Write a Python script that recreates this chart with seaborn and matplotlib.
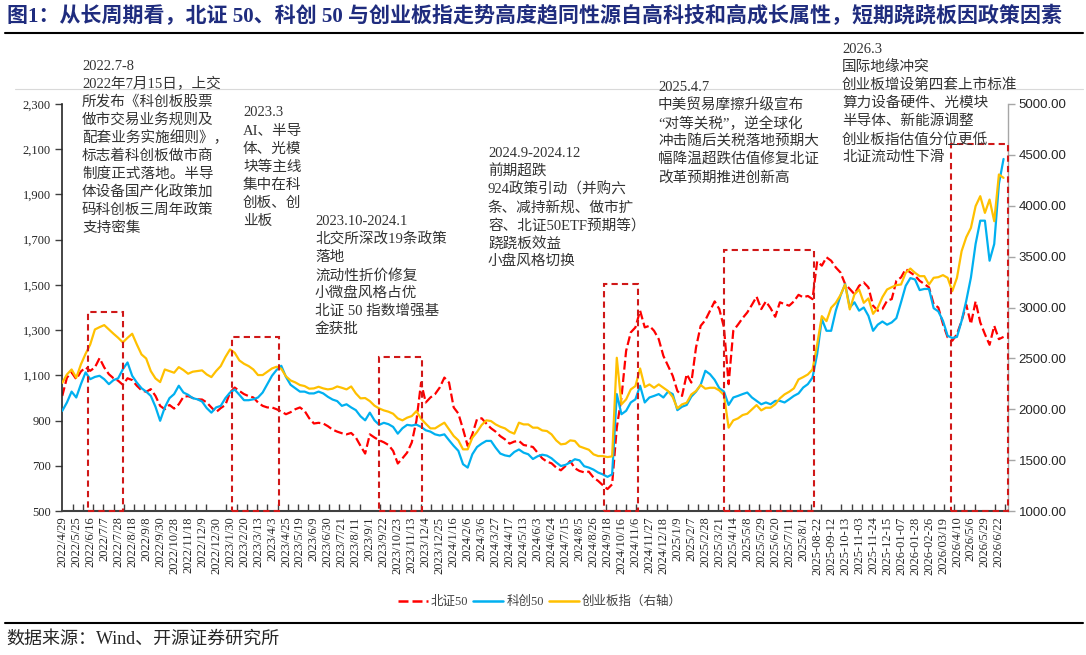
import numpy as np
import pandas as pd
import matplotlib
matplotlib.use("Agg")
import matplotlib.pyplot as plt
from matplotlib.lines import Line2D
from matplotlib.patches import Rectangle
import seaborn as sns

sns.set_style("ticks")
plt.rcParams["font.family"] = ["Liberation Serif", "Noto Sans CJK SC", "DejaVu Sans"]
plt.rcParams["axes.unicode_minus"] = False

# 北证50 / 科创50 (左轴) 与 创业板指 (右轴)，每 5 个交易日读一个点
bz50 = [1009, 1090, 1113, 1083, 1117, 1135, 1120, 1135, 1176, 1135, 1105, 1087, 1076, 1058, 1087,
        1079, 1054, 1034, 1027, 1039, 1009, 965, 950, 969, 953, 972, 1005, 1008, 1000, 994,
        993, 980, 958, 937, 955, 969, 1024, 1046, 1031, 1017, 1008, 1002,
        980, 965, 958, 958, 950, 940, 928, 937, 950, 958, 943, 910, 887, 890, 887,
        875, 860, 851, 844, 839, 845, 825, 788, 754, 839, 825, 813, 804, 792, 766,
        710, 733, 758, 803, 899, 1068, 980, 1002, 1017, 1046, 1090,
        1068, 958, 931, 862, 788, 839, 906, 910, 887, 866, 851, 831, 817, 798, 807,
        810, 792, 788, 783, 758, 733, 718, 711, 692, 680, 699, 721, 689, 677, 671,
        674, 648, 633, 614, 597, 618, 869, 1002, 1208, 1290, 1312,
        1386, 1312, 1319, 1297, 1260, 1186, 1142, 1098, 1031, 1009, 1105, 1068, 1223, 1319, 1344,
        1386, 1427, 1393, 1312, 1061, 1297, 1324, 1353, 1378, 1412, 1448, 1393, 1427, 1397, 1359,
        1423, 1415, 1408, 1427, 1456, 1445, 1451, 1437, 1604, 1585,
        1622, 1607, 1577, 1555, 1504, 1482, 1459, 1496, 1511, 1489, 1408, 1386, 1393, 1430, 1437,
        1518, 1533, 1570, 1555, 1541, 1518, 1504, 1489, 1415, 1400, 1327, 1268, 1253, 1282, 1341,
        1412, 1327, 1427, 1334, 1282, 1235, 1319, 1260, 1270]
kc50 = [943, 980, 1028, 1002, 1061, 1113, 1083, 1093, 1098, 1083, 1061, 1079, 1087, 1127, 1157,
        1098, 1068, 1043, 1028, 1009, 961, 899, 958, 999, 1017, 1054, 1024, 1014, 999, 994,
        984, 955, 935, 958, 965, 999, 1024, 1037, 1014, 990, 990, 994,
        1002, 1024, 1061, 1098, 1124, 1142, 1093, 1058, 1043, 1028, 1028, 1020, 1020, 1028, 1020,
        1005, 993, 986, 965, 972, 958, 946, 919, 901, 935, 901, 881, 890, 884, 872,
        842, 866, 881, 878, 882, 872, 857, 851, 839, 834, 839,
        813, 788, 766, 707, 692, 751, 783, 798, 810, 810, 780, 754, 746, 742, 761,
        772, 758, 751, 730, 742, 749, 745, 733, 715, 699, 704, 715, 729, 724, 698,
        692, 683, 670, 662, 651, 662, 1017, 928, 943, 980, 994,
        1054, 980, 1002, 1009, 1017, 1002, 1028, 1017, 946, 961, 969, 1006, 1028, 1058, 1120,
        1105, 1080, 1043, 1028, 969, 1002, 1009, 1017, 1024, 1002, 987, 972, 980, 972, 987,
        987, 980, 994, 1009, 1020, 1046, 1061, 1090, 1194, 1349,
        1297, 1297, 1386, 1452, 1504, 1400, 1423, 1386, 1400, 1363, 1297, 1324, 1338, 1324, 1334,
        1353, 1423, 1496, 1530, 1524, 1477, 1482, 1482, 1397, 1383, 1341, 1275, 1265, 1270, 1341,
        1430, 1533, 1681, 1784, 1784, 1607, 1681, 1946, 2057]
cyb = [2260, 2342, 2391, 2310, 2441, 2545, 2637, 2784, 2807, 2827, 2784, 2742, 2702, 2657, 2702,
       2742, 2637, 2539, 2499, 2375, 2303, 2267, 2391, 2375, 2359, 2414, 2385, 2349, 2369, 2375,
       2382, 2342, 2316, 2375, 2424, 2513, 2588, 2555, 2480, 2447, 2424, 2391,
       2336, 2336, 2369, 2401, 2418, 2398, 2323, 2283, 2264, 2238, 2228, 2202, 2205, 2221, 2205,
       2195, 2202, 2224, 2211, 2195, 2224, 2156, 2107, 2110, 2080, 2035, 2008, 1989, 1976, 1956,
       1910, 1891, 1917, 1933, 1982, 1907, 1858, 1812, 1812, 1841, 1868,
       1802, 1737, 1694, 1606, 1606, 1720, 1776, 1845, 1891, 1884, 1851, 1828, 1812, 1779, 1760,
       1868, 1851, 1851, 1819, 1819, 1792, 1786, 1753, 1694, 1655, 1661, 1694, 1688, 1635, 1619,
       1602, 1557, 1540, 1540, 1530, 1537, 2506, 2048, 2097, 2195, 2228,
       2401, 2218, 2244, 2211, 2244, 2211, 2179, 2120, 2008, 2048, 2064, 2146, 2179, 2238, 2202,
       2211, 2211, 2185, 2139, 1819, 1891, 1910, 1943, 1956, 1999, 2041, 1989, 2015, 2015, 2048,
       2107, 2146, 2172, 2205, 2293, 2316, 2342, 2391, 2637, 2915,
       2866, 2997, 3046, 3122, 3226, 2981, 3128, 3177, 3046, 3089, 2938, 2997, 3102, 3177, 3200,
       3220, 3226, 3341, 3383, 3341, 3308, 3308, 3226, 3292, 3298, 3318, 3292, 3161, 3292, 3554,
       3691, 3783, 3996, 4094, 3930, 4061, 3848, 4307, 4274]
step_days = 5      # 每个读数间隔的交易日
label_days = 15    # 横轴标签间隔的交易日

date_labels = ["2022/4/29", "2022/5/25", "2022/6/16", "2022/7/7", "2022/7/28", "2022/8/18",
               "2022/9/8", "2022/9/30", "2022/10/28", "2022/11/18", "2022/12/9", "2022/12/30",
               "2023/1/30", "2023/2/20", "2023/3/13", "2023/4/3", "2023/4/25", "2023/5/19",
               "2023/6/9", "2023/6/30", "2023/7/21", "2023/8/11", "2023/9/1", "2023/9/22",
               "2023/10/23", "2023/11/13", "2023/12/4", "2023/12/25", "2024/1/16", "2024/2/6",
               "2024/3/6", "2024/3/27", "2024/4/17", "2024/5/13", "2024/6/3", "2024/6/24",
               "2024/7/15", "2024/8/5", "2024/8/26", "2024/9/18", "2024/10/16", "2024/11/6",
               "2024/11/27", "2024/12/18", "2025/1/9", "2025/2/7", "2025/2/28", "2025/3/21",
               "2025/4/14", "2025/5/8", "2025/5/29", "2025/6/20", "2025/7/11", "2025/8/1",
               "2025-08-22", "2025-09-12", "2025-10-13", "2025-11-03", "2025-11-24", "2025-12-15",
               "2026-01-07", "2026-01-28", "2026-02-26", "2026/03/19", "2026/4/10", "2026/5/6",
               "2026/5/29", "2026/6/22"]

# 红色虚线框：起止位置(以横轴标签为单位)和左轴上的框顶
box_start = [1.86, 12.12, 22.65, 38.77, 47.33, 63.57]
box_end = [4.36, 15.52, 25.71, 41.2, 53.77, 67.67]
box_top = [1379, 1271, 1180, 1504, 1655, 2123]

notes = [
    (82, 66, ["2022.7-8", "2022年7月15日，上交", "所发布《科创板股票", "做市交易业务规则及",
              "配套业务实施细则》，", "标志着科创板做市商", "制度正式落地。半导",
              "体设备国产化政策加", "码科创板三周年政策", "支持密集"]),
    (243, 113, ["2023.3", "AI、半导", "体、光模", "块等主线", "集中在科", "创板、创", "业板"]),
    (315, 221.5, ["2023.10-2024.1", "北交所深改19条政策", "落地", "流动性折价修复",
                  "小微盘风格占优", "北证 50 指数增强基", "金获批"]),
    (488, 153.5, ["2024.9-2024.12", "前期超跌", "924政策引动（并购六", "条、减持新规、做市扩",
                  "容、北证50ETF预期等）", "跷跷板效益", "小盘风格切换"]),
    (658, 87.5, ["2025.4.7", "中美贸易摩擦升级宣布", "“对等关税”，逆全球化",
                 "冲击随后关税落地预期大", "幅降温超跌估值修复北证", "改革预期推进创新高"]),
    (842, 49.5, ["2026.3", "国际地缘冲突", "创业板增设第四套上市标准", "算力设备硬件、光模块",
                 "半导体、新能源调整", "创业板指估值分位更低", "北证流动性下滑"]),
]

df = pd.DataFrame({"day": np.arange(len(bz50)) * step_days,
                   "北证50": bz50, "科创50": kc50, "创业板指": cyb})

W, H = 1086, 655
fig = plt.figure(figsize=(W / 100, H / 100), dpi=100)
ax = fig.add_axes([62 / W, 1 - 511 / H, (1007.7 - 62) / W, (511 - 104) / H])

red, blue, gold = "#FF0000", "#00B0F0", "#FFC000"
sns.lineplot(data=df, x="day", y="北证50", ax=ax, color=red, lw=1.6,
             linestyle=(0, (4, 1.6)), zorder=2)
sns.lineplot(data=df, x="day", y="科创50", ax=ax, color=blue, lw=1.6, zorder=3)
ax2 = ax.twinx()
sns.lineplot(data=df, x="day", y="创业板指", ax=ax2, color=gold, lw=1.6, zorder=2)

ax.set_xlabel("")
ax.set_ylabel("")
ax2.set_ylabel("")
ax.set_xlim(-0.3, 67.63 * label_days)
ax.set_ylim(500, 2300)
ax2.set_ylim(1000, 5000)

ax.set_xticks(np.arange(len(date_labels)) * label_days)
ax.set_xticklabels(date_labels, rotation=90, fontsize=9, family="Liberation Serif")
ax.set_xticks(np.arange(0, 67.63 * label_days, 11), minor=True)
ax.tick_params(axis="x", which="major", length=0, pad=4)
ax.tick_params(axis="x", which="minor", direction="in", length=5, width=1, color="#404040")

lt = np.arange(500, 2301, 200)
ax.set_yticks(lt)
ax.set_yticklabels([f"{v:,}" for v in lt], fontsize=9, family="Liberation Serif")
ax.tick_params(axis="y", length=5, width=1, color="#404040", pad=3)
rt = np.arange(1000, 5001, 500)
ax2.set_yticks(rt)
ax2.set_yticklabels([f"{v:.2f}" for v in rt], fontsize=9.5, family="Liberation Sans")
ax2.tick_params(axis="y", length=5, width=1, color="#A6A6A6", pad=3)

for a in (ax, ax2):
    a.spines["top"].set_visible(False)
ax.spines["right"].set_visible(False)
ax2.spines["left"].set_visible(False)
ax2.spines["bottom"].set_visible(False)
ax.spines["left"].set_color("#262626")
ax.spines["left"].set_linewidth(1.2)
ax.spines["bottom"].set_color("#404040")
ax.spines["bottom"].set_linewidth(1.5)
ax2.spines["right"].set_color("#A6A6A6")
ax2.spines["right"].set_linewidth(1)

for s, e, t in zip(box_start, box_end, box_top):
    ax2.add_patch(Rectangle((s * label_days, 500), (e - s) * label_days, t - 500,
                            transform=ax.transData, fill=False, ec="#D01818", lw=1.5,
                            ls=(0, (3, 2)), clip_on=False, zorder=5))

for x0, y0, lines in notes:
    for i, line in enumerate(lines):
        fig.text(x0 / W, 1 - (y0 + i * 18) / H, line, fontsize=10.5, color="#333333",
                 va="center", ha="left")

handles = [Line2D([], [], color=red, lw=1.8, linestyle=(0, (4, 1.6))),
           Line2D([], [], color=blue, lw=1.8),
           Line2D([], [], color=gold, lw=1.8)]
fig.legend(handles, ["北证50", "科创50", "创业板指（右轴）"], loc="center",
           bbox_to_anchor=(540 / W, 1 - 602 / H), ncol=3, frameon=False, fontsize=9,
           handlelength=2.4, handletextpad=0.25, columnspacing=0.4, labelcolor="#404040")

fig.text(7 / W, 1 - 16 / H,
         "图1：从长周期看，北证 50、科创 50 与创业板指走势高度趋同性源自高科技和高成长属性，短期跷跷板因政策因素",
         fontsize=15.1, fontweight="bold", color="#1F2C7E", va="center", ha="left")
fig.add_artist(Line2D([5 / W, 1083 / W], [1 - 33 / H] * 2, color="black", lw=1.5))
fig.add_artist(Line2D([15 / W, 1083 / W], [1 - 89 / H] * 2, color="#D9D9D9", lw=0.8))
fig.add_artist(Line2D([5 / W, 1083 / W], [1 - 623 / H] * 2, color="black", lw=1.5))
fig.text(6 / W, 1 - 639 / H, "数据来源：Wind、开源证券研究所", fontsize=13, color="#262626",
         va="center", ha="left")

fig.savefig("out.png", dpi=100)
